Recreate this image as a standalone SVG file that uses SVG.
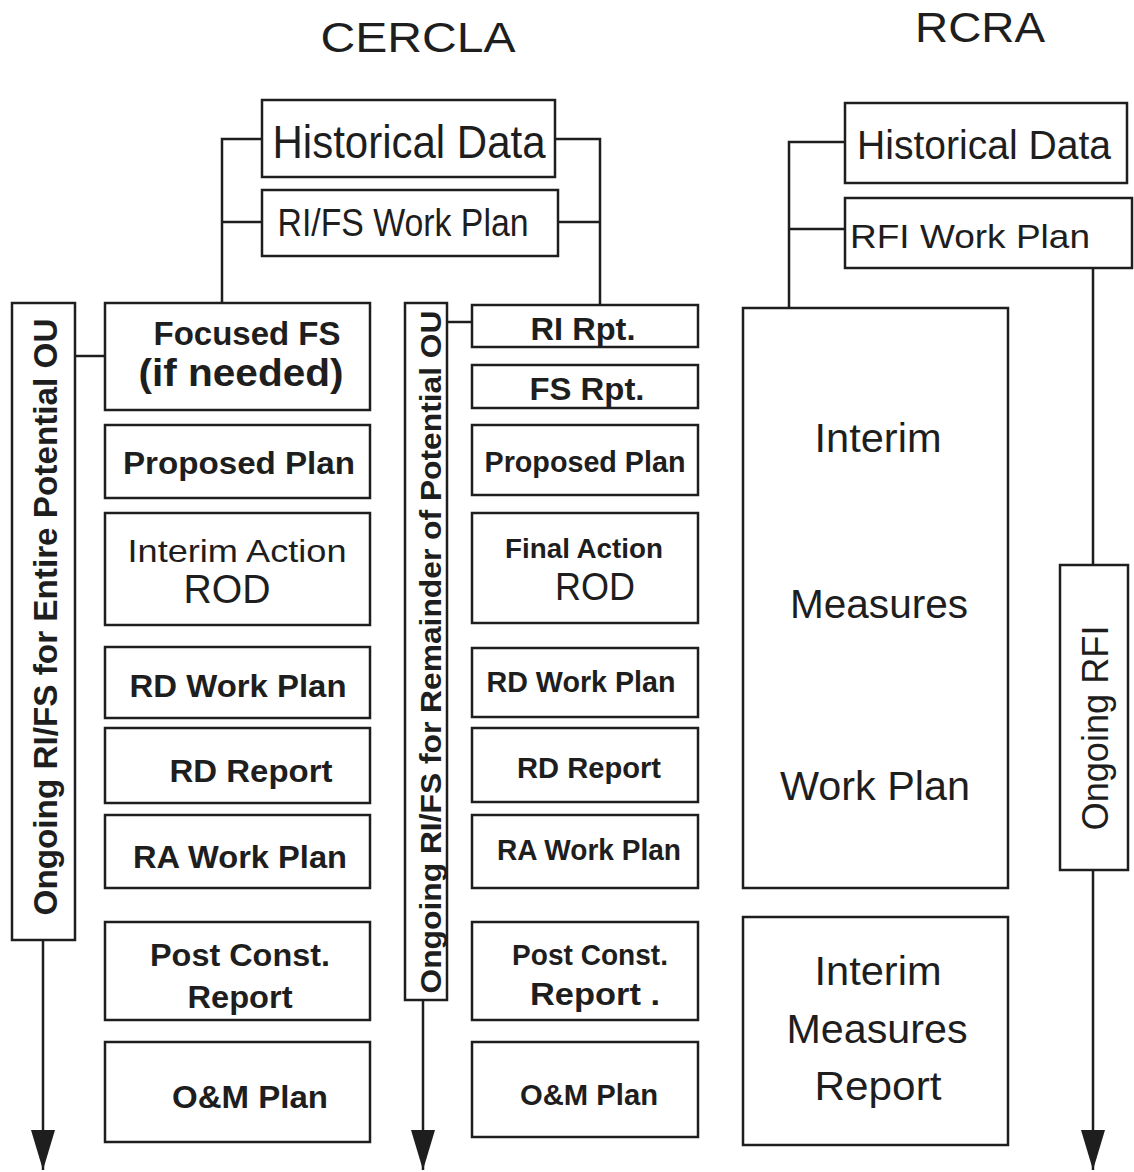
<svg xmlns="http://www.w3.org/2000/svg" width="1134" height="1172" viewBox="0 0 1134 1172">
<style>
.box{fill:none;stroke:#1e1e1e;stroke-width:2.5}
.ln{fill:none;stroke:#1e1e1e;stroke-width:2.5}
text{font-family:"Liberation Sans",Arial,sans-serif;fill:#1e1e1e;text-anchor:middle}
.b{font-weight:bold}
.t{font-size:42px}
</style>
<defs>
<marker id="arr" markerUnits="userSpaceOnUse" markerWidth="42" markerHeight="24" refX="40" refY="12" orient="auto">
<path d="M0,0 L40,12 L0,24 z" fill="#1e1e1e"/>
</marker>
</defs>
<rect width="1134" height="1172" fill="#ffffff"/>
<text class="t" x="418" y="52" textLength="195" lengthAdjust="spacingAndGlyphs">CERCLA</text>
<text class="t" x="980" y="42" textLength="130" lengthAdjust="spacingAndGlyphs">RCRA</text>

<g id="connectors">
<polyline class="ln" points="262,139 222,139 222,303"/>
<line class="ln" x1="222" y1="222" x2="262" y2="222"/>
<polyline class="ln" points="555,139 600,139 600,305"/>
<line class="ln" x1="558" y1="222" x2="600" y2="222"/>
<line class="ln" x1="75" y1="356" x2="105" y2="356"/>
<line class="ln" x1="447" y1="322" x2="472" y2="322"/>
<line class="ln" x1="43" y1="940" x2="43" y2="1170" marker-end="url(#arr)"/>
<line class="ln" x1="423" y1="1000" x2="423" y2="1170" marker-end="url(#arr)"/>
<polyline class="ln" points="845,142 789,142 789,308"/>
<line class="ln" x1="789" y1="229" x2="845" y2="229"/>
<line class="ln" x1="1093" y1="268" x2="1093" y2="565"/>
<line class="ln" x1="1093" y1="870" x2="1093" y2="1170" marker-end="url(#arr)"/>
</g>

<g id="c-hist"><rect class="box" x="262" y="100" width="293" height="77"/><text x="409" y="158" font-size="46" textLength="273" lengthAdjust="spacingAndGlyphs">Historical Data</text></g>
<g id="c-rifswp"><rect class="box" x="262" y="190" width="296" height="66"/><text x="403" y="236" font-size="38" textLength="251" lengthAdjust="spacingAndGlyphs">RI/FS Work Plan</text></g>

<g id="c-ongoing-entire"><rect class="box" x="12" y="303" width="63" height="637"/><text class="b" x="0" y="0" font-size="33" transform="translate(57,617) rotate(-90)" textLength="597" lengthAdjust="spacingAndGlyphs">Ongoing RI/FS for Entire Potential OU</text></g>
<g id="c-ffs"><rect class="box" x="105" y="303" width="265" height="107"/><text class="b" x="247" y="345" font-size="34" textLength="187" lengthAdjust="spacingAndGlyphs">Focused FS</text><text class="b" x="241" y="386" font-size="38" textLength="205" lengthAdjust="spacingAndGlyphs">(if needed)</text></g>
<g id="c-pp"><rect class="box" x="105" y="425" width="265" height="73"/><text class="b" x="239" y="474" font-size="31" textLength="232" lengthAdjust="spacingAndGlyphs">Proposed Plan</text></g>
<g id="c-iarod"><rect class="box" x="105" y="513" width="265" height="112"/><text x="237" y="562" font-size="32" textLength="219" lengthAdjust="spacingAndGlyphs">Interim Action</text><text x="227" y="603" font-size="40" textLength="87" lengthAdjust="spacingAndGlyphs">ROD</text></g>
<g id="c-rdwp"><rect class="box" x="105" y="647" width="265" height="71"/><text class="b" x="238" y="697" font-size="32" textLength="217" lengthAdjust="spacingAndGlyphs">RD Work Plan</text></g>
<g id="c-rdr"><rect class="box" x="105" y="728" width="265" height="75"/><text class="b" x="251" y="782" font-size="32" textLength="163" lengthAdjust="spacingAndGlyphs">RD Report</text></g>
<g id="c-rawp"><rect class="box" x="105" y="815" width="265" height="73"/><text class="b" x="240" y="868" font-size="32" textLength="214" lengthAdjust="spacingAndGlyphs">RA Work Plan</text></g>
<g id="c-pcr"><rect class="box" x="105" y="922" width="265" height="98"/><text class="b" x="240" y="966" font-size="31" textLength="180" lengthAdjust="spacingAndGlyphs">Post Const.</text><text class="b" x="240" y="1008" font-size="31" textLength="105" lengthAdjust="spacingAndGlyphs">Report</text></g>
<g id="c-om"><rect class="box" x="105" y="1042" width="265" height="100"/><text class="b" x="250" y="1108" font-size="31" textLength="156" lengthAdjust="spacingAndGlyphs">O&amp;M Plan</text></g>

<g id="c-ongoing-rem"><rect class="box" x="405" y="303" width="42" height="697"/><text class="b" x="0" y="0" font-size="30" transform="translate(441,652) rotate(-90)" textLength="683" lengthAdjust="spacingAndGlyphs">Ongoing RI/FS for Remainder of Potential OU</text></g>
<g id="c-rirpt"><rect class="box" x="472" y="305" width="226" height="42"/><text class="b" x="583" y="340" font-size="32" textLength="105" lengthAdjust="spacingAndGlyphs">RI Rpt.</text></g>
<g id="c-fsrpt"><rect class="box" x="472" y="365" width="226" height="43"/><text class="b" x="587" y="400" font-size="32" textLength="115" lengthAdjust="spacingAndGlyphs">FS Rpt.</text></g>
<g id="c-pp2"><rect class="box" x="472" y="425" width="226" height="70"/><text class="b" x="585" y="472" font-size="29" textLength="201" lengthAdjust="spacingAndGlyphs">Proposed Plan</text></g>
<g id="c-farod"><rect class="box" x="472" y="513" width="226" height="110"/><text class="b" x="584" y="558" font-size="28" textLength="158" lengthAdjust="spacingAndGlyphs">Final Action</text><text x="595" y="600" font-size="38" textLength="80" lengthAdjust="spacingAndGlyphs">ROD</text></g>
<g id="c-rdwp2"><rect class="box" x="472" y="648" width="226" height="69"/><text class="b" x="581" y="692" font-size="29" textLength="189" lengthAdjust="spacingAndGlyphs">RD Work Plan</text></g>
<g id="c-rdr2"><rect class="box" x="472" y="728" width="226" height="74"/><text class="b" x="589" y="778" font-size="29" textLength="144" lengthAdjust="spacingAndGlyphs">RD Report</text></g>
<g id="c-rawp2"><rect class="box" x="472" y="815" width="226" height="73"/><text class="b" x="589" y="860" font-size="29" textLength="184" lengthAdjust="spacingAndGlyphs">RA Work Plan</text></g>
<g id="c-pcr2"><rect class="box" x="472" y="922" width="226" height="98"/><text class="b" x="590" y="965" font-size="29" textLength="156" lengthAdjust="spacingAndGlyphs">Post Const.</text><text class="b" x="595" y="1005" font-size="31" textLength="130" lengthAdjust="spacingAndGlyphs">Report .</text></g>
<g id="c-om2"><rect class="box" x="472" y="1042" width="226" height="95"/><text class="b" x="589" y="1105" font-size="29" textLength="138" lengthAdjust="spacingAndGlyphs">O&amp;M Plan</text></g>

<g id="r-hist"><rect class="box" x="845" y="103" width="282" height="80"/><text x="984" y="159" font-size="40" textLength="254" lengthAdjust="spacingAndGlyphs">Historical Data</text></g>
<g id="r-rfiwp"><rect class="box" x="845" y="198" width="287" height="70"/><text x="970" y="248" font-size="34" textLength="240" lengthAdjust="spacingAndGlyphs">RFI Work Plan</text></g>
<g id="r-imwp"><rect class="box" x="743" y="308" width="265" height="580"/><text x="878" y="452" font-size="40" textLength="127" lengthAdjust="spacingAndGlyphs">Interim</text><text x="879" y="618" font-size="40" textLength="178" lengthAdjust="spacingAndGlyphs">Measures</text><text x="875" y="800" font-size="40" textLength="190" lengthAdjust="spacingAndGlyphs">Work Plan</text></g>
<g id="r-imr"><rect class="box" x="743" y="917" width="265" height="228"/><text x="878" y="985" font-size="40" textLength="127" lengthAdjust="spacingAndGlyphs">Interim</text><text x="877" y="1043" font-size="40" textLength="181" lengthAdjust="spacingAndGlyphs">Measures</text><text x="878" y="1100" font-size="40" textLength="127" lengthAdjust="spacingAndGlyphs">Report</text></g>
<g id="r-ongoing"><rect class="box" x="1060" y="565" width="68" height="305"/><text x="0" y="0" font-size="36" transform="translate(1108,728) rotate(-90)" textLength="205" lengthAdjust="spacingAndGlyphs">Ongoing RFI</text></g>
</svg>
